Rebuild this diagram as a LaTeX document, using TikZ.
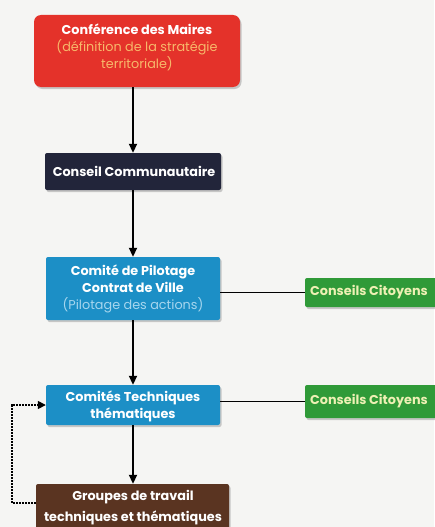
\documentclass[tikz,border=0pt]{standalone}
\usepackage{fontspec}
\setmainfont{Poppins}
\usetikzlibrary{arrows.meta,shadows}
\definecolor{bg}{HTML}{F5F5F3}
\definecolor{cred}{HTML}{E4322A}
\definecolor{cnavy}{HTML}{22253A}
\definecolor{cblue}{HTML}{1C8FC6}
\definecolor{cgreen}{HTML}{2F9A38}
\definecolor{cbrown}{HTML}{5A3421}
\definecolor{tred}{HTML}{F7B86A}
\definecolor{tblue}{HTML}{A6D6EE}
\definecolor{tgreen}{HTML}{EEF0B4}
\tikzset{
  box/.style={draw=none, rounded corners=2pt, inner sep=0pt,
    drop shadow={shadow xshift=1.5pt, shadow yshift=-2pt, opacity=0.4}},
  txt/.style={align=center, text=white, inner sep=0pt,
    font=\fontsize{12.8}{17}\selectfont\bfseries},
  flow/.style={-{Triangle[length=9pt,width=8pt]}, line width=1.9pt, black},
  link/.style={line width=1.9pt, black},
  loopline/.style={densely dotted, line width=2pt, black}
}
\begin{document}
\begin{tikzpicture}[x=1pt,y=-1pt]
\fill[bg] (0,0) rectangle (434,527);
\useasboundingbox (0,0) rectangle (434,527);
% boxes
\node[box, fill=cred, rounded corners=7pt, minimum width=206pt, minimum height=72pt] (maires) at (137,51) {};
\node[box, fill=cnavy, minimum width=176pt, minimum height=37pt] (conseil) at (133,171.5) {};
\node[box, fill=cblue, minimum width=174pt, minimum height=63pt] (pilotage) at (133,288.5) {};
\node[box, fill=cgreen, minimum width=135pt, minimum height=29pt] (cit1) at (372.5,292.5) {};
\node[box, fill=cblue, minimum width=174pt, minimum height=40pt] (tech) at (133,405) {};
\node[box, fill=cgreen, minimum width=135pt, minimum height=33pt] (cit2) at (372.5,401.5) {};
\node[box, fill=cbrown, minimum width=193pt, minimum height=50pt] (groupes) at (132.5,509) {};
% texts
\node[txt] (mairest) at (137,47)
  {Conférence des Maires\\{\mdseries\color{tred}(définition de la stratégie}\\{\mdseries\color{tred}territoriale)}};
\node[txt] (conseilt) at (134,171.5) {Conseil Communautaire};
\node[txt] (pilotaget) at (133,289)
  {Comité de Pilotage\\Contrat de Ville\\{\mdseries\color{tblue}(Pilotage des actions)}};
\node[txt, anchor=west, text=tgreen] (cit1t) at (310,292.5) {Conseils Citoyens};
\node[txt] (techt) at (133,406) {Comités Techniques\\thématiques};
\node[txt, anchor=west, text=tgreen] (cit2t) at (310,401.5) {Conseils Citoyens};
\node[txt, font=\fontsize{12.8}{21}\selectfont\bfseries] (groupest) at (133,507.5)
  {Groupes de travail\\techniques et thématiques};
% connectors
\coordinate (c1) at (12,503);
\coordinate (c2) at (12,405);
\draw[flow] (maires.south -| conseil.north) -- (conseil.north);
\draw[flow] (conseil.south) -- (pilotage.north);
\draw[flow] (pilotage.south) -- (tech.north);
\draw[flow] (tech.south) -- (tech.south |- groupes.north);
\draw[link] (pilotage.east |- cit1.west) -- (cit1.west);
\draw[link] (tech.east |- cit2.west) -- (cit2.west);
\draw[loopline] (groupes.west |- c1) -- (c1) -- (c2) -- ([xshift=-7pt]tech.west);
\draw[-{Triangle[length=8pt,width=8pt]}, line width=1.5pt] ([xshift=-7pt]tech.west) -- (tech.west);
\end{tikzpicture}
\end{document}
